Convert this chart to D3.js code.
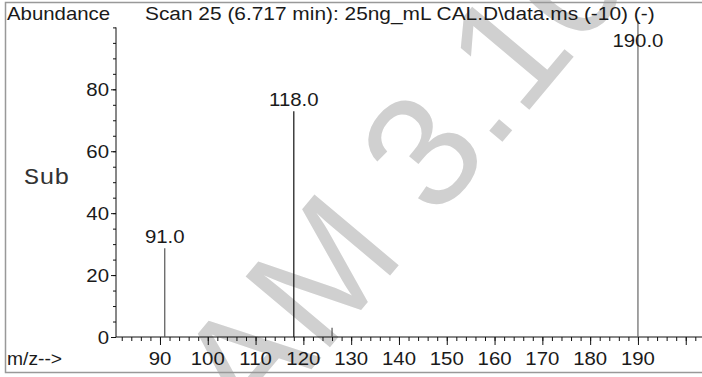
<!DOCTYPE html>
<html>
<head>
<meta charset="utf-8">
<script src="https://cdn.jsdelivr.net/npm/d3@7"></script>
<style>
  html, body { margin: 0; padding: 0; background: #fff; overflow: hidden; }
  svg { display: block; }
</style>
</head>
<body>
<svg id="chart" width="702" height="377"></svg>
<script>
// ---- data ----
const peakMz = [91, 118, 126, 190];
const peakAbundance = [28.7, 72.9, 3, 102];
const peakLabels = ["91.0", "118.0", "", "190.0"];
const peakColors = ["#555", "#111", "#555", "#666"];
const yMajorTicks = [0, 20, 40, 60, 80];
const xMajorTicks = [90, 100, 110, 120, 130, 140, 150, 160, 170, 180, 190, 200];
const xTickLabels = ["90", "100", "110", "120", "130", "140", "150", "160", "170", "180", "190", ""];
const titleText = "Scan 25 (6.717 min): 25ng_mL CAL.D\\data.ms (-10) (-)";
const yTitle = "Abundance";
const xTitle = "m/z-->";
const sideLabel = "Sub";
const watermark = "AM 3.10";

const svg = d3.select("#chart");
const FONT = "'Liberation Sans', Arial, Helvetica, sans-serif";
const FS = 18, SX = 1.133;

const x = d3.scaleLinear().domain([80.8, 203.4]).range([116, 702]);
const y = d3.scaleLinear().domain([0, 100]).range([337, 27.4]);

// watermark
svg.append("text")
  .attr("transform", "translate(253,439) rotate(-50)")
  .attr("font-family", FONT)
  .attr("font-size", 160)
  .attr("fill", "#d0d0d0")
  .text(watermark);

// border
svg.append("rect")
  .attr("x", 5.5).attr("y", 2.5).attr("width", 720).attr("height", 370)
  .attr("fill", "none").attr("stroke", "#999").attr("stroke-width", 1.5);

function stxt(px, py, s, anchor, opts = {}) {
  const g = svg.append("g").attr("transform", `translate(${px},${py}) scale(${opts.sx || SX},1)`);
  return g.append("text")
    .attr("text-anchor", anchor || "start")
    .attr("font-family", opts.family || FONT)
    .attr("font-size", opts.size || FS)
    .attr("fill", opts.fill || "#1a1a1a")
    .text(s);
}

// y axis (minor ticks every 5, majors every 20)
const yAxisMinor = d3.axisLeft(y).tickValues(d3.range(0, 101, 5)).tickSize(3).tickFormat("");
const gyMinor = svg.append("g").attr("transform", "translate(116,0)").call(yAxisMinor);
const yAxisMajor = d3.axisLeft(y).tickValues(yMajorTicks).tickSize(5).tickFormat("");
const gy = svg.append("g").attr("transform", "translate(116,0)").call(yAxisMajor);
[gyMinor, gy].forEach(g => { g.selectAll("path").attr("stroke", "#111"); g.selectAll("line").attr("stroke", "#111"); });
gy.select(".domain").attr("d", `M0,${y(0)}V${y(100)}`);
gyMinor.select(".domain").remove();
yMajorTicks.forEach(v => stxt(109, y(v) + 6.5, String(v), "end"));

// x axis
const xAxisMinor = d3.axisBottom(x).tickValues(d3.range(82, 203, 2)).tickSize(4).tickFormat("");
const gxMinor = svg.append("g").attr("transform", `translate(0,${y(0)})`).call(xAxisMinor);
const xAxisMajor = d3.axisBottom(x).tickValues(xMajorTicks).tickSize(8).tickFormat("");
const gx = svg.append("g").attr("transform", `translate(0,${y(0)})`).call(xAxisMajor);
[gxMinor, gx].forEach(g => { g.selectAll("path").attr("stroke", "#111"); g.selectAll("line").attr("stroke", "#111"); });
gx.select(".domain").attr("d", `M116,0H702`);
gxMinor.select(".domain").remove();
xMajorTicks.forEach((v, i) => { if (xTickLabels[i]) stxt(x(v), 365, xTickLabels[i], "middle"); });

// peaks
svg.append("g").selectAll("line").data(peakMz).join("line")
  .attr("x1", d => x(d)).attr("x2", d => x(d))
  .attr("y1", y(0)).attr("y2", (d, i) => y(peakAbundance[i]))
  .attr("stroke", (d, i) => peakColors[i]).attr("stroke-width", 1.2);

peakMz.forEach((m, i) => {
  if (!peakLabels[i]) return;
  const ly = Math.max(y(peakAbundance[i]) - 5, 47);
  stxt(x(m), ly, peakLabels[i], "middle");
});

// titles
stxt(7, 20, yTitle, "start");
stxt(145, 20, titleText, "start", { sx: 1.16 });
stxt(7, 365, xTitle, "start", { sx: 1.07 });
stxt(24, 184, sideLabel, "start", { family: "'Liberation Mono', 'Courier New', monospace", size: 22, sx: 1.15, fill: "#333" });
</script>
</body>
</html>
